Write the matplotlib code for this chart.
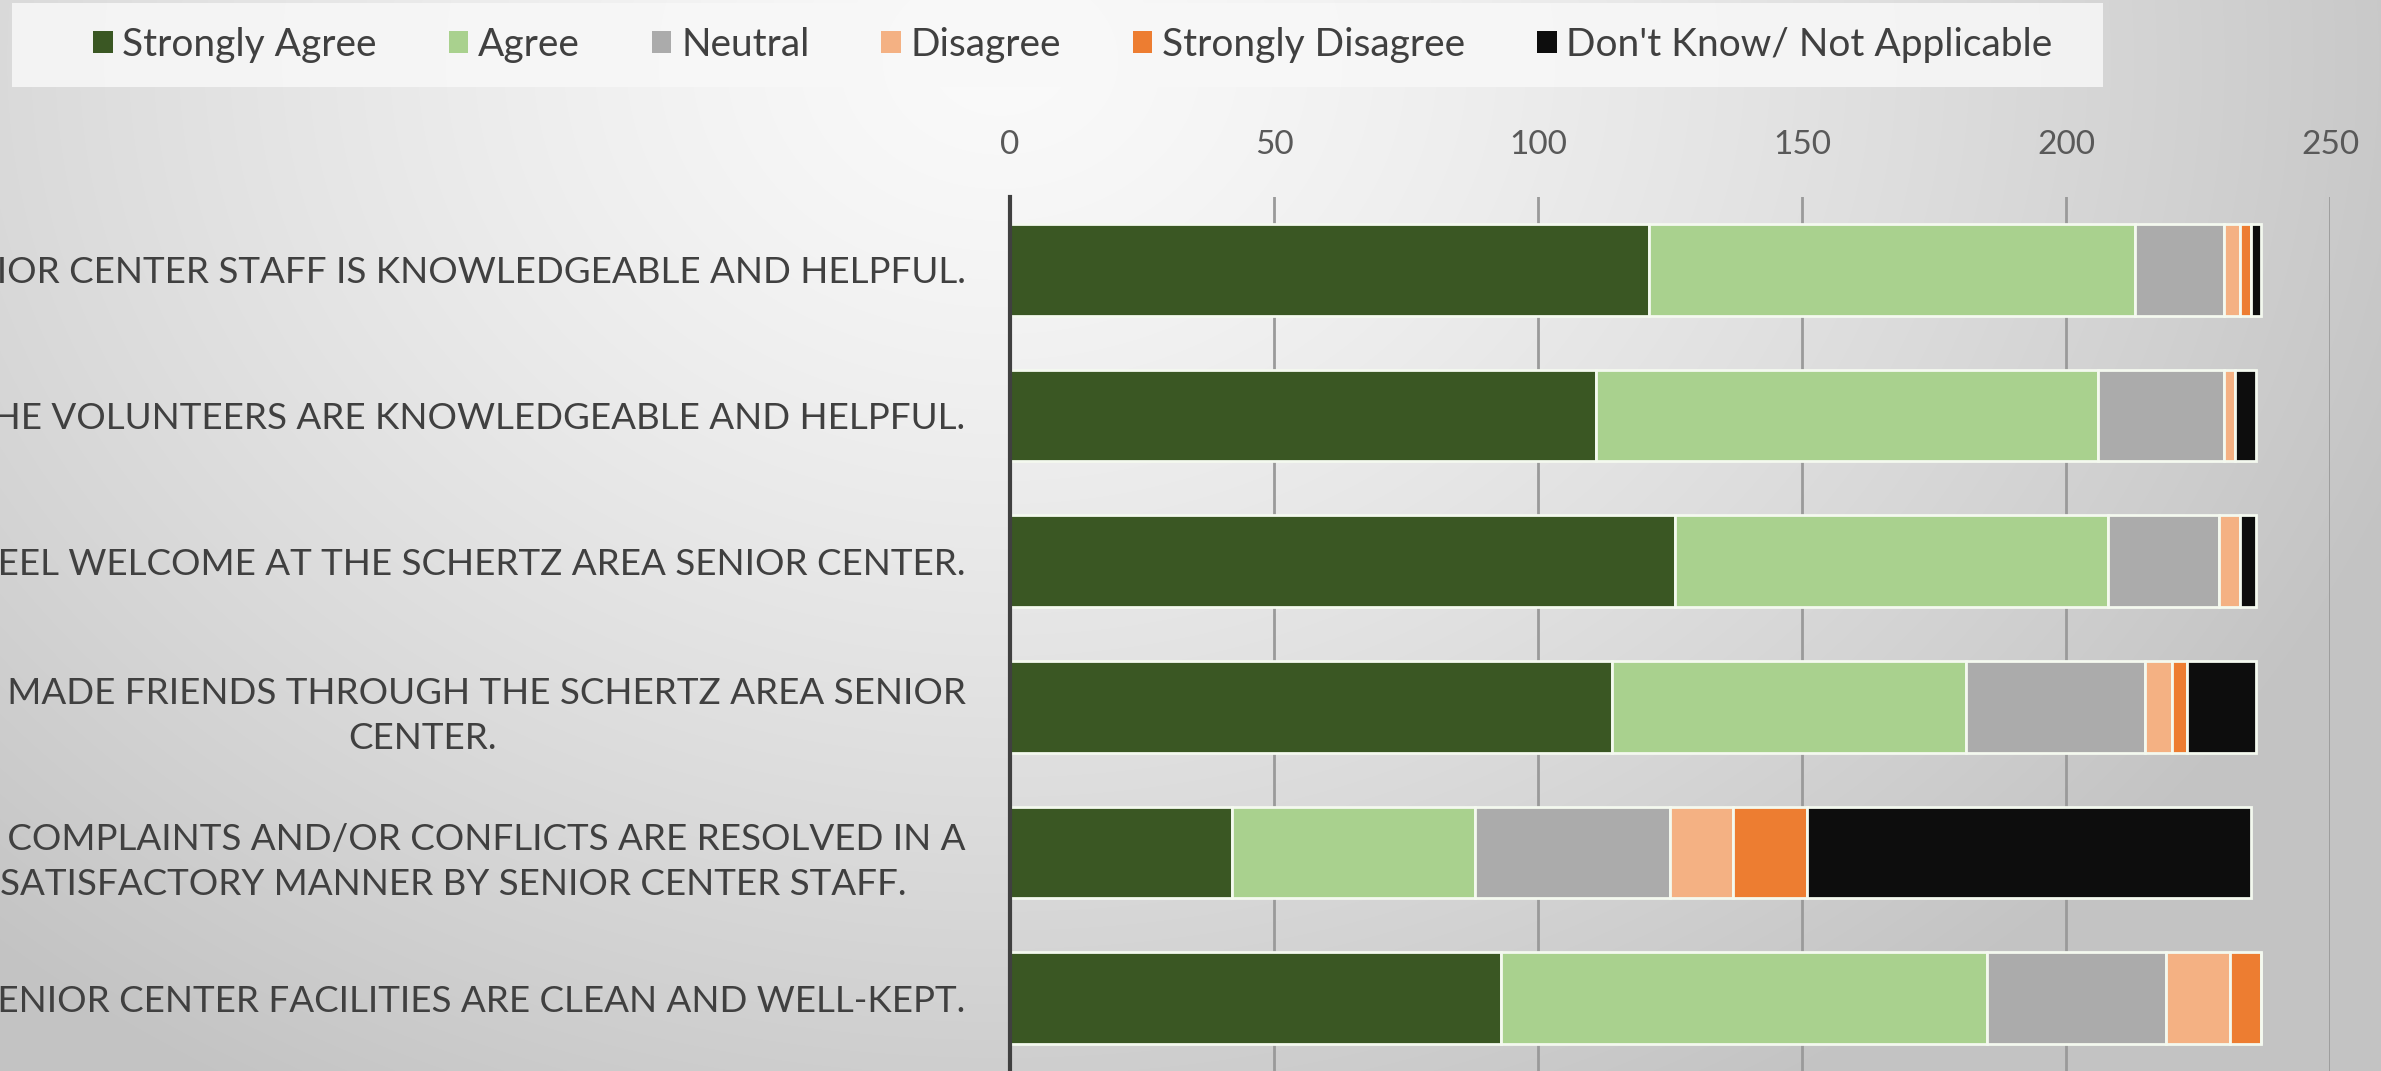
import numpy as np
from matplotlib import pyplot as plt
from matplotlib.patches import Patch, Rectangle

#Survey statements (top to bottom), left part is cut off by the figure edge
statements = [
    "THE SENIOR CENTER STAFF IS KNOWLEDGEABLE AND HELPFUL.",
    "THE VOLUNTEERS ARE KNOWLEDGEABLE AND HELPFUL.",
    "I FEEL WELCOME AT THE SCHERTZ AREA SENIOR CENTER.",
    "I HAVE MADE FRIENDS THROUGH THE SCHERTZ AREA SENIOR\nCENTER.",
    "MY COMPLAINTS AND/OR CONFLICTS ARE RESOLVED IN A\nSATISFACTORY MANNER BY SENIOR CENTER STAFF.",
    "THE SENIOR CENTER FACILITIES ARE CLEAN AND WELL-KEPT.",
]

#Response counts per statement
strongly_agree = [121, 111, 126, 114, 42, 93]
agree = [92, 95, 82, 67, 46, 92]
neutral = [17, 24, 21, 34, 37, 34]
disagree = [3, 2, 4, 5, 12, 12]
strongly_disagree = [2, 0, 0, 3, 14, 6]
dont_know = [2, 4, 3, 13, 84, 0]

series_names = ["Strongly Agree", "Agree", "Neutral", "Disagree",
                "Strongly Disagree", "Don't Know/ Not Applicable"]
series = [strongly_agree, agree, neutral, disagree, strongly_disagree, dont_know]
colors = ["#3a5723", "#a9d18e", "#ababab", "#f4b183", "#ed7d31", "#0d0d0d"]

x_ticks = [0, 50, 100, 150, 200, 250]

plt.rcParams['font.family'] = ['Lato', 'DejaVu Sans']

fig = plt.figure(figsize=(23.81, 10.71), dpi=100)

#Soft radial grey background like the slide
bg = fig.add_axes([0, 0, 1, 1], zorder=-10)
yy, xx = np.mgrid[0:1071, 0:2381]
r = np.sqrt((xx - 1000) ** 2 + ((yy - 60) * 1.25) ** 2) / 1400.0
shade = np.clip(250 - 50 * r ** 1.3, 195, 250) / 255.0
bg.imshow(np.dstack([shade, shade, shade]), aspect='auto', extent=[0, 1, 0, 1])
bg.axis('off')

#Light band behind the legend
fig.patches.append(Rectangle((12 / 2381, 1 - 87 / 1071), 2091 / 2381, 84 / 1071,
                             transform=fig.transFigure, facecolor='#f8f8f8',
                             edgecolor='none', alpha=0.85, zorder=-5))

ax = fig.add_axes([0.4242, 0.0, 0.5544, 0.816])
ax.set_facecolor('none')

y = np.arange(len(statements))
left = np.zeros(len(statements))
for vals, name, c in zip(series, series_names, colors):
    ax.barh(y, vals, left=left, height=0.63, color=c, edgecolor='#f4f9ef',
            linewidth=2, label=name, zorder=3)
    left = left + np.array(vals)

ax.set_xlim(0, 250)
ax.set_ylim(5.5, -0.5)
ax.xaxis.tick_top()
ax.set_xticks(x_ticks)
ax.set_xticklabels([str(t) for t in x_ticks])
ax.tick_params(axis='x', length=0, pad=27, labelsize=24, labelcolor='#595959')
ax.set_yticks(y)
ax.set_yticklabels(statements)
ax.tick_params(axis='y', length=0, pad=32, labelsize=26.5, labelcolor='#404040')
for lbl in ax.get_yticklabels():
    lbl.set_multialignment('center')
    lbl.set_linespacing(1.45)

ax.grid(axis='x', color='#9a9a9a', linewidth=2, zorder=0)
for s in ['top', 'right', 'bottom']:
    ax.spines[s].set_visible(False)
ax.spines['left'].set_color('#404040')
ax.spines['left'].set_linewidth(3)
ax.spines['left'].set_zorder(4)

handles = [Patch(facecolor=c, edgecolor='none') for c in colors]
leg = fig.legend(handles, series_names, loc='center left', bbox_to_anchor=(0.031, 0.958),
                 ncol=6, fontsize=28, frameon=False, handlelength=0.5, handleheight=0.5,
                 handletextpad=0.25, columnspacing=1.85, borderpad=0.0)
for t in leg.get_texts():
    t.set_color('#404040')

fig.savefig('out.png', dpi=100)
